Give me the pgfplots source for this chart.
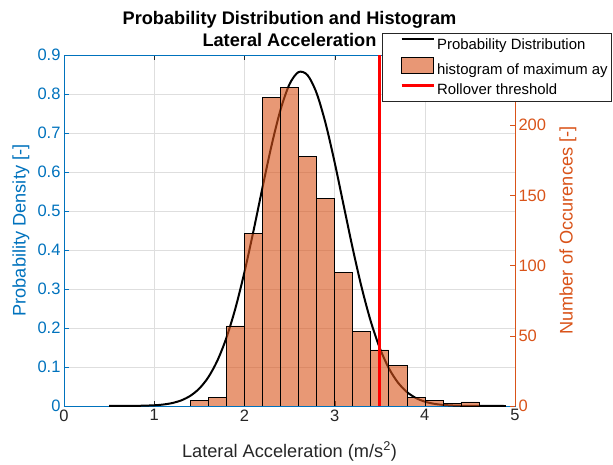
\documentclass[border=0pt]{standalone}
\usepackage{fontspec}
\setmainfont{Liberation Sans}
\usepackage{pgfplots}
\pgfplotsset{compat=1.18}

\definecolor{mblue}{RGB}{0,114,189}
\definecolor{morange}{RGB}{217,83,25}
\definecolor{mgray}{RGB}{38,38,38}
\definecolor{mgrid}{RGB}{222,222,222}

\newcommand\tickfont{\fontsize{16.5bp}{19bp}\selectfont}
\newcommand\labfont{\fontsize{18.2bp}{21bp}\selectfont}

\pgfplotsset{
  common/.style={
    scale only axis, width=451bp, height=351bp,
    xmin=0, xmax=5,
    tick align=inside, major tick length=5bp,
    /pgf/number format/assume math mode=true,
    ticklabel style={font=\tickfont},
  },
  lineleg/.style={legend image code/.code={\path (0bp,0bp) (46bp,0bp); \draw[##1] (16bp,5bp) -- (48bp,5bp);}},
  barleg/.style={legend image code/.code={\path (0bp,0bp) (46bp,0bp); \draw[##1,/tikz/.cd] (16bp,-3.5bp) rectangle (48bp,13bp);}},
}

\begin{document}
\begin{tikzpicture}
% left axis: fitted pdf
\begin{axis}[common,
  ymin=0, ymax=0.9,
  xtick={0,1,2,3,4,5},
  ytick={0,0.1,0.2,0.3,0.4,0.5,0.6,0.7,0.8,0.9},
  ytick pos=left,
  grid=major, grid style={mgrid, line width=0.6bp},
  axis line style={mgray, line width=0.6bp},
  y axis line style={mblue},
  x tick style={mgray}, y tick style={mblue},
  xticklabel style={mgray}, yticklabel style={mblue},
  xlabel={Lateral Acceleration (m/s\textsuperscript{2})},
  xlabel style={font=\labfont, mgray, at={(axis description cs:0.5,0)}, anchor=base, yshift=-51bp},
  ylabel={Probability Density [-]},
  ylabel style={font=\labfont, mblue, at={([xshift=-43bp]axis description cs:0,0.5)}, anchor=center},
  title={Probability Distribution and Histogram\\Lateral Acceleration},
  title style={font=\bfseries\fontsize{18.2bp}{21.5bp}\selectfont, align=center, at={(axis description cs:0.5,1)}, anchor=south, yshift=-1bp},
]
\addplot[black, line width=2bp, smooth] coordinates {
(0.5,0.00002) (0.8,0.0004) (1.0,0.0018) (1.1,0.0038) (1.2,0.0076) (1.3,0.0144)
(1.4,0.0260) (1.5,0.0448) (1.6,0.0738) (1.7,0.1161) (1.8,0.1744) (1.9,0.2502)
(2.0,0.3427) (2.1,0.4481) (2.2,0.5595) (2.3,0.6670) (2.4,0.7592) (2.5,0.8251)
(2.6,0.8562) (2.7,0.8483) (2.8,0.8026) (2.9,0.7249) (3.0,0.6252) (3.1,0.5148)
(3.2,0.4048) (3.3,0.3039) (3.4,0.2178) (3.5,0.1491) (3.6,0.0974) (3.7,0.0608)
(3.8,0.0362) (3.9,0.0206) (4.0,0.0112) (4.1,0.0058) (4.2,0.0029) (4.3,0.0014)
(4.4,0.0006) (4.6,0.0001) (4.9,0)};
\end{axis}

% right axis: histogram counts
\begin{axis}[common,
  ymin=0, ymax=250,
  axis x line=none, axis y line*=right,
  ytick={0,50,100,150,200},
  y axis line style={morange, line width=0.6bp},
  y tick style={morange}, yticklabel style={morange},
  ylabel={Number of Occurences [-]},
  ylabel style={font=\labfont, morange, at={([xshift=53bp]axis description cs:1,0.5)}, anchor=center},
  legend style={at={(1,1)}, anchor=north east, xshift=97bp, yshift=22bp,
    draw=mgray, line width=0.6bp, fill=white,
    font=\fontsize{14.9bp}{17bp}\selectfont, cells={anchor=west},
    row sep=4bp, inner xsep=2bp, inner ysep=3bp},
]
\addlegendimage{black, line width=2bp, lineleg}
\addlegendentry{Probability Distribution}
\addplot[ybar interval, draw=black, line width=0.5bp, fill=morange, fill opacity=0.6, barleg] coordinates {
(1.4,4) (1.6,6) (1.8,57) (2.0,123) (2.2,220) (2.4,227) (2.6,178) (2.8,148)
(3.0,95) (3.2,53) (3.4,40) (3.6,29) (3.8,6) (4.0,4) (4.2,2) (4.4,3) (4.6,0)};
\addlegendentry{histogram of maximum ay}
\addplot[red, line width=3bp, lineleg] coordinates {(3.5,0) (3.5,250)};
\addlegendentry{Rollover threshold}
\end{axis}
\pgfresetboundingbox
\path[use as bounding box] (-64bp,-59bp) rectangle (549bp,406bp);
\end{tikzpicture}
\end{document}
